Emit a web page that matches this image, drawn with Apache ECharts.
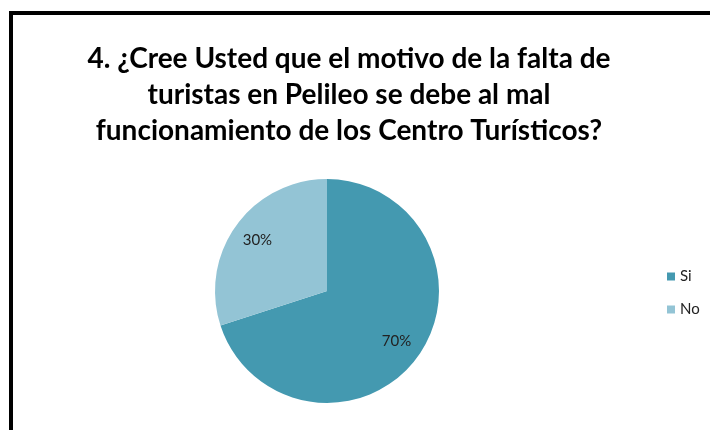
<!DOCTYPE html>
<html>
<head>
<meta charset="utf-8">
<script src="https://cdn.jsdelivr.net/npm/echarts@6/dist/echarts.min.js"></script>
<style>
html, body { margin: 0; padding: 0; background: #fff; }
#chartDiv { width: 710px; height: 430px; }
</style>
</head>
<body>
<div id="chartDiv"></div>
<script>
// datos de la pregunta 4
var titleLines = [
	'4. ¿Cree Usted que el motivo de la falta de',
	'turistas en Pelileo se debe al mal',
	'funcionamiento de los Centro Turísticos?'
];
var categories = ['Si', 'No'];
var values = [70, 30];
var colors = ['#4499B0', '#93C4D5'];

var app = {};
app.chart = echarts.init(document.getElementById('chartDiv'));

var pieData = [];
for (var i = 0; i < categories.length; i++) {
	pieData.push({ name: categories[i], value: values[i], itemStyle: { color: colors[i] } });
}
// misma data para la capa de etiquetas (transparente)
var labelData = [];
for (var j = 0; j < categories.length; j++) {
	labelData.push({ name: categories[j], value: values[j] });
}

var option = {
	animation: false,
	graphic: [
		{ type: 'rect', shape: { x: 9, y: 11, width: 4, height: 430 }, style: { fill: '#000' } },
		{ type: 'rect', shape: { x: 9, y: 11, width: 710, height: 4 }, style: { fill: '#000' } },
		{
			type: 'text', x: 349, y: 41,
			style: {
				text: titleLines.join('\n'),
				align: 'center', verticalAlign: 'top',
				font: 'bold 28px Lato', lineHeight: 36, fill: '#000'
			}
		}
	],
	legend: {
		orient: 'vertical',
		left: 662, top: 264,
		icon: 'rect', itemWidth: 8, itemHeight: 8, itemGap: 18,
		data: categories,
		textStyle: { fontFamily: 'Lato', fontSize: 15, color: '#222' }
	},
	series: [
		{
			type: 'pie',
			center: [327, 291],
			radius: [0, 112],
			startAngle: 90,
			clockwise: true,
			silent: true,
			label: { show: false },
			labelLine: { show: false },
			data: pieData
		},
		{
			// solo etiquetas
			type: 'pie',
			center: [327, 291],
			radius: [60, 106],
			startAngle: 90,
			clockwise: true,
			silent: true,
			itemStyle: { color: 'rgba(0,0,0,0)' },
			label: {
				show: true, position: 'inside', formatter: '{d}%',
				fontFamily: 'Lato', fontSize: 15, color: '#222'
			},
			labelLine: { show: false },
			data: labelData
		}
	]
};
app.chart.setOption(option);
</script>
</body>
</html>
